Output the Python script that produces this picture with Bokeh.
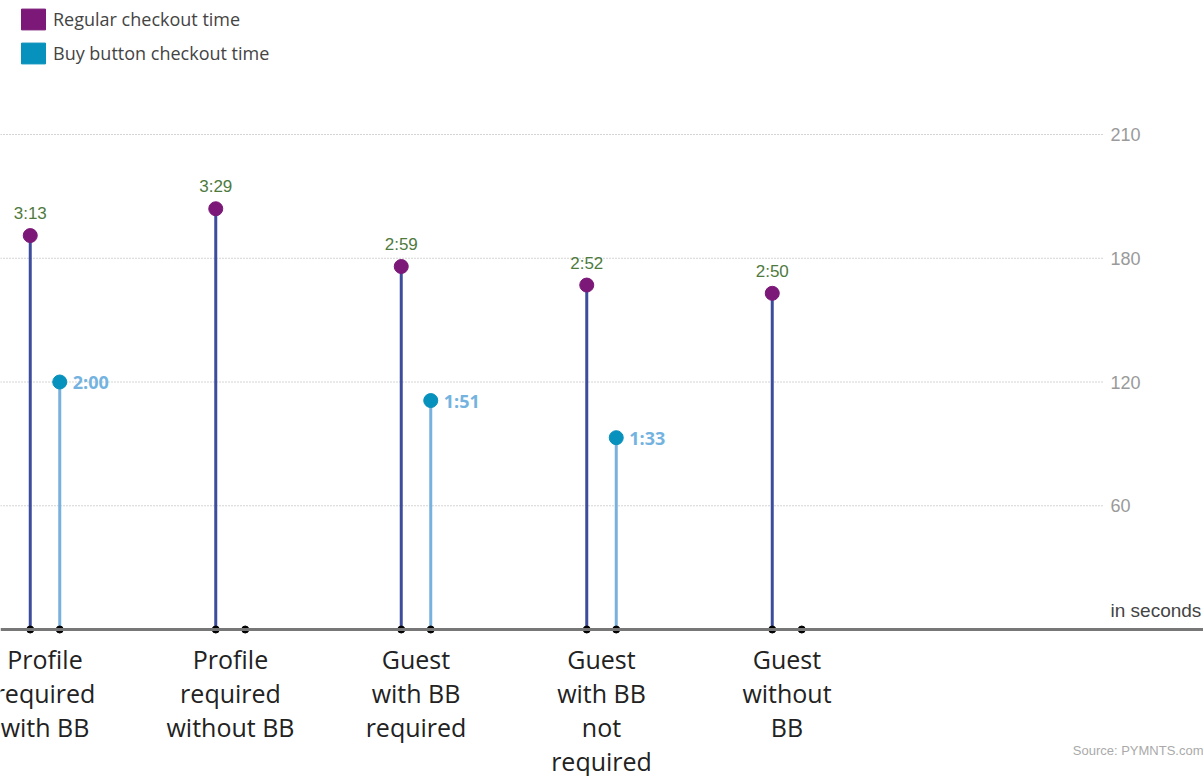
import math
from bokeh.plotting import figure
from bokeh.models import Range1d, ColumnDataSource, Legend, LegendItem, Span, Label
from bokeh.core.properties import value
from bokeh.embed import file_html
from bokeh.resources import INLINE

# ---- data ----
categories = ["Profile\nrequired\nwith BB", "Profile\nrequired\nwithout BB",
              "Guest\nwith BB\nrequired", "Guest\nwith BB\nnot\nrequired", "Guest\nwithout\nBB"]
regular_seconds = [191, 204, 176, 167, 163]
regular_labels = ["3:13", "3:29", "2:59", "2:52", "2:50"]
bb_seconds = [120, None, 111, 93, None]
bb_labels = ["2:00", "", "1:51", "1:33", ""]
tick_values = [60, 120, 180, 240]
tick_labels = ["60", "120", "180", "210"]
series_names = ["Regular checkout time", "Buy button checkout time"]

W, H = 1203, 776
PURPLE = "#7b1878"
TEAL = "#0791bd"
REG_STEM = "#3d4c9d"
BB_STEM = "#78b0de"

off = 0.0795
idx = list(range(len(categories)))
reg_x = [i - off for i in idx]
bb_x = [i + off for i in idx]

p = figure(width=W, height=H, output_backend="svg", toolbar_location=None,
           x_axis_location=None, y_axis_location=None,
           x_range=Range1d(-44.5 / 185.5, (W - 44.5) / 185.5),
           y_range=Range1d(-147 / 2.0625, 629 / 2.0625),
           min_border=0, outline_line_color=None)
p.grid.visible = False
p.background_fill_color = "white"

x_left = -44.5 / 185.5
x_grid_end = (1104 - 44.5) / 185.5
x_tick_lbl = (1110 - 44.5) / 185.5

# gridlines
p.segment(x0=[x_left] * len(tick_values), x1=[x_grid_end] * len(tick_values),
          y0=tick_values, y1=tick_values, line_color="#a8a8a8", line_width=1, line_dash="1 2")
p.text(x=[x_tick_lbl] * len(tick_values), y=tick_values, text=tick_labels,
       text_font=value("Liberation Sans"), text_font_size="18px", text_color="#9a9a9a",
       text_baseline="middle", text_align="left")
p.text(x=[x_tick_lbl], y=[0], text=["in seconds"], y_offset=-19,
       text_font=value("Liberation Sans"), text_font_size="19px", text_color="#444444",
       text_baseline="middle", text_align="left")

# stems
reg_src = ColumnDataSource(dict(x=reg_x, y=regular_seconds, lbl=regular_labels))
bbv = [v if v is not None else math.nan for v in bb_seconds]
bb_src = ColumnDataSource(dict(x=bb_x, y=bbv, lbl=bb_labels))

p.segment(x0="x", x1="x", y0=0, y1="y", source=reg_src, line_color=REG_STEM, line_width=3)
p.segment(x0="x", x1="x", y0=0, y1="y", source=bb_src, line_color=BB_STEM, line_width=3)

# baseline
p.add_layout(Span(location=0, dimension="width", line_color="#777777", line_width=3))

# baseline dots
p.scatter(x=reg_x + bb_x, y=[0] * (2 * len(idx)), size=7, color="black")

# top dots
p.scatter(x="x", y="y", source=reg_src, size=14, color=PURPLE)
p.scatter(x="x", y="y", source=bb_src, size=14, color=TEAL)

# value labels
p.text(x="x", y="y", text="lbl", source=reg_src, y_offset=-22,
       text_font=value("Liberation Sans"), text_font_size="17px", text_color="#4e7a3e",
       text_align="center", text_baseline="middle")
p.text(x="x", y="y", text="lbl", source=bb_src, x_offset=13,
       text_font=value("Open Sans"), text_font_size="18px", text_font_style="bold",
       text_color="#74b3df", text_align="left", text_baseline="middle")

# category labels
p.text(x=idx, y=[0] * len(idx), text=categories, y_offset=12,
       text_font=value("Open Sans"), text_font_size="25px", text_color="#222222",
       text_align="center", text_baseline="top", text_line_height=1.0)

# legend proxies (no visible marks, only legend swatches)
nan = math.nan
r1 = p.quad(left=[nan], right=[nan], top=[nan], bottom=[nan], color=PURPLE)
r2 = p.quad(left=[nan], right=[nan], top=[nan], bottom=[nan], color=TEAL)
legend = Legend(items=[LegendItem(label=series_names[0], renderers=[r1]),
                       LegendItem(label=series_names[1], renderers=[r2])],
                location=(18, H - 66), orientation="vertical",
                glyph_width=30, glyph_height=26, label_standoff=5, spacing=8,
                padding=0, margin=0, border_line_color=None, background_fill_alpha=0,
                label_text_font="Open Sans", label_text_font_size="18px",
                label_text_color="#444444", label_height=26)
p.add_layout(legend)

p.add_layout(Label(x=W, y=26, x_units="screen", y_units="screen", text="Source: PYMNTS.com",
                   text_align="right", text_baseline="middle", text_font="Liberation Sans",
                   text_font_size="13px", text_color="#aaaaaa"))

open("out.html", "w").write(file_html(p, INLINE))
